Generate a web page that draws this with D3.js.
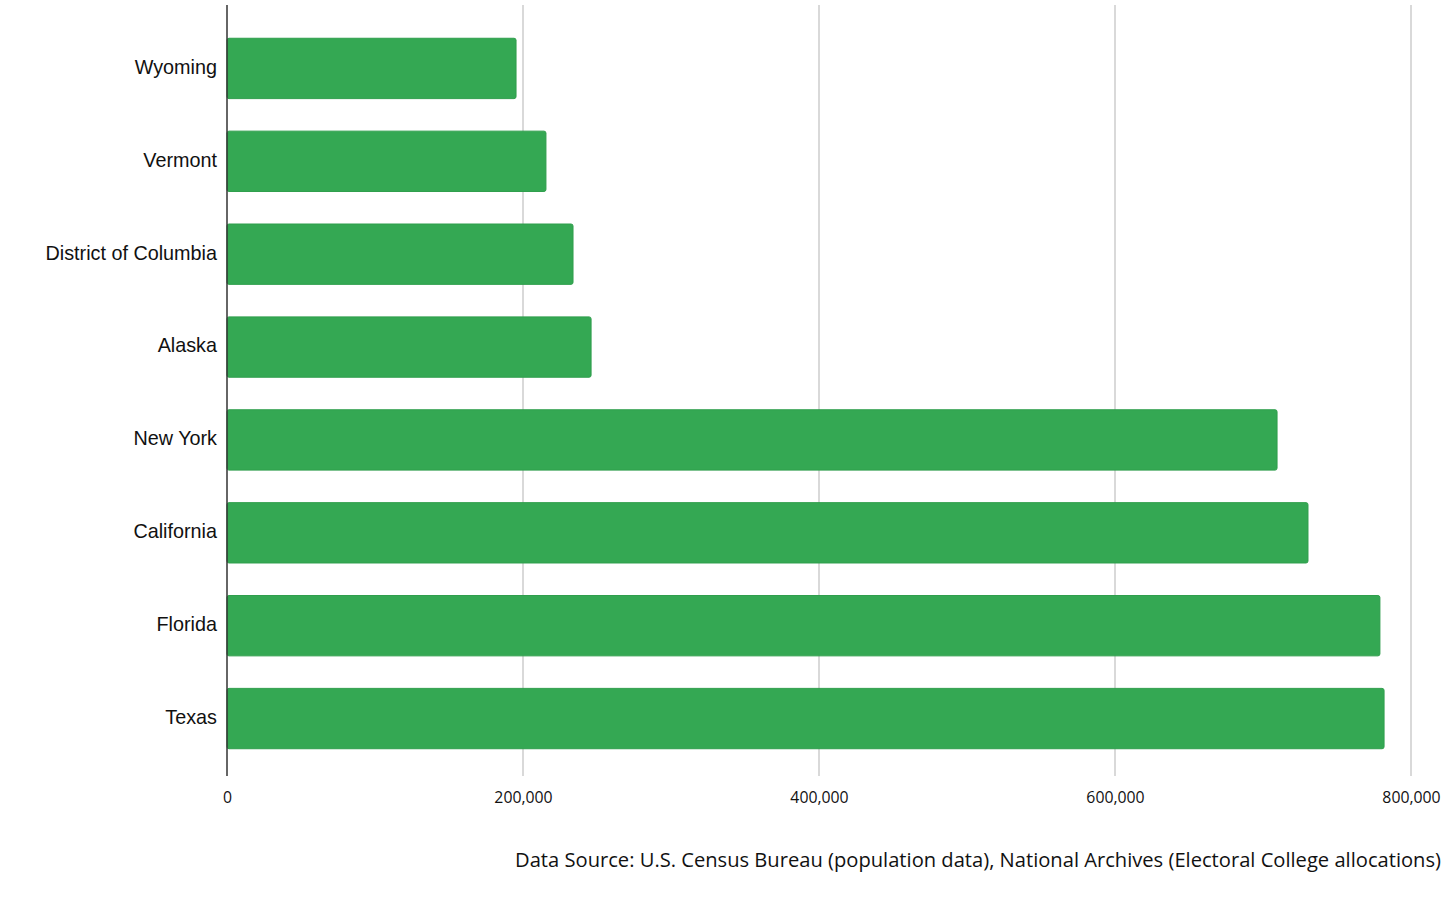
<!DOCTYPE html>
<html><head><meta charset="utf-8">
<script src="https://cdn.jsdelivr.net/npm/d3@7"></script>
<style>body{margin:0;background:#fff}svg{display:block}</style>
</head><body>
<svg id="c" width="1456" height="897"></svg>
<script>
const categories = ["Wyoming","Vermont","District of Columbia","Alaska","New York","California","Florida","Texas"];
const values = [195300, 215500, 233800, 246000, 709500, 730400, 779000, 781800];
const tickValues = [0, 200000, 400000, 600000, 800000];
const sourceText = "Data Source: U.S. Census Bureau (population data), National Archives (Electoral College allocations)";

const svg = d3.select("#c");
const x = d3.scaleLinear().domain([0, 800000]).range([227, 1411]);
const y = d3.scaleBand().domain(categories).range([22, 765]).paddingInner(0.35).paddingOuter(0.175);

// gridlines
svg.append("g").selectAll("line").data(tickValues.filter(d => d > 0)).join("line")
  .attr("x1", d => x(d)).attr("x2", d => x(d)).attr("y1", 5).attr("y2", 776)
  .attr("stroke", "#cccccc").attr("stroke-width", 1.5);

// bars
svg.append("g").selectAll("rect").data(values).join("rect")
  .attr("x", x(0)).attr("y", (d, i) => y(categories[i]))
  .attr("width", d => x(d) - x(0)).attr("height", y.bandwidth())
  .attr("rx", 2).attr("fill", "#34a853").attr("stroke", "#2f9e4c").attr("stroke-width", 1);

// axis line
svg.append("line").attr("x1", x(0)).attr("x2", x(0)).attr("y1", 5).attr("y2", 776)
  .attr("stroke", "#333").attr("stroke-width", 1.5);

// category labels
const yAxis = d3.axisLeft(y).tickSize(0).tickPadding(10);
const yg = svg.append("g").attr("transform", `translate(${x(0)},-1)`).call(yAxis);
yg.select(".domain").remove();
yg.selectAll("text").attr("font-family", "Liberation Sans, Arial, sans-serif").attr("font-size", 19.8).attr("fill", "#111");

// x tick labels
const xAxis = d3.axisBottom(x).tickValues(tickValues).tickSize(0).tickPadding(0).tickFormat(d3.format(","));
const xg = svg.append("g").attr("transform", "translate(0,791)").call(xAxis);
xg.select(".domain").remove();
xg.selectAll("text").attr("font-family", "Open Sans, sans-serif").attr("font-size", 17).attr("fill", "#111")
  .attr("transform", "scale(0.93,1)");

// source
svg.append("text").attr("x", 1441).attr("y", 867).attr("text-anchor", "end")
  .attr("font-family", "Open Sans, sans-serif").attr("font-size", 20.15).attr("fill", "#111")
  .text(sourceText);
</script>
</body></html>
